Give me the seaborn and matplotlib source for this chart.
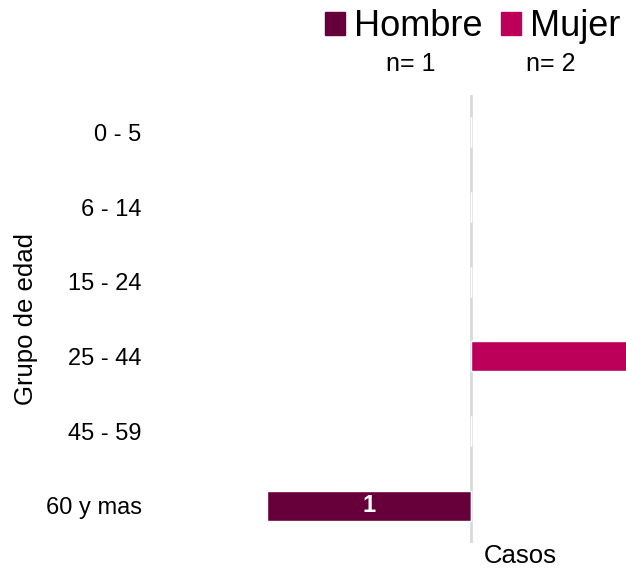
import pandas as pd
import matplotlib.pyplot as plt
import seaborn as sns
from matplotlib.patches import Patch

# Datos
grupos = ["0 - 5", "6 - 14", "15 - 24", "25 - 44", "45 - 59", "60 y mas"]
hombre = [0, 0, 0, 0, 0, 1]
mujer = [0, 0, 0, 2, 0, 0]
sexos = ["Hombre", "Mujer"]
totales = [sum(hombre), sum(mujer)]
colores = ["#67003a", "#bc005a"]

# Tabla larga: hombres a la izquierda (negativo)
df = pd.DataFrame({
    "Grupo": grupos * 2,
    "Casos": [-v for v in hombre] + mujer,
    "Sexo": ["Hombre"] * len(grupos) + ["Mujer"] * len(grupos),
})

sns.set_style("white")
plt.rcParams["font.family"] = ["Liberation Sans", "DejaVu Sans"]
plt.rcParams["text.color"] = "black"
plt.rcParams["axes.labelcolor"] = "black"
plt.rcParams["ytick.color"] = "black"

fig = plt.figure(figsize=(6.26, 5.70), dpi=100)
ax = fig.add_axes([150 / 626, 1 - 543 / 570, 476 / 626, 448 / 570])

sns.barplot(data=df, y="Grupo", x="Casos", hue="Sexo", order=grupos,
            palette=colores, dodge=False, width=0.4, orient="h",
            saturation=1, legend=False, ax=ax)

ax.set_xlim(-(471 - 150) / 204, (626 - 471) / 204)
ax.set_ylim(5.5, -0.5)
ax.axvline(0, color="#d9d9d9", lw=2, zorder=0)

# etiqueta dentro de la barra de hombres
ax.bar_label(ax.containers[0], labels=[str(v) if v else "" for v in hombre],
             label_type="center", color="white", fontsize=17, fontweight="bold")

for s in ax.spines.values():
    s.set_visible(False)
ax.set_xticks([])
ax.set_xlabel("")
ax.set_ylabel("Grupo de edad", fontsize=18.5)
ax.yaxis.set_label_coords(-0.236, 0.5)
ax.tick_params(axis="y", length=0, labelsize=17, pad=6)

fig.text(520 / 626, 1 - 556 / 570, "Casos", fontsize=18.5, ha="center", va="center")

# Leyenda con n
handles = [Patch(color=c, label=s) for s, c in zip(sexos, colores)]
fig.legend(handles=handles, loc="upper right", bbox_to_anchor=(620 / 626, 1 - 9 / 570),
           ncol=2, frameon=False, fontsize=26, handlelength=0.55,
           handleheight=0.6, handletextpad=0.25, columnspacing=0.5,
           borderpad=0, borderaxespad=0)
for x, n in zip([411, 551], totales):
    fig.text(x / 626, 1 - 64 / 570, f"n= {n}", fontsize=18, ha="center", va="center")

fig.savefig("out.png", dpi=100)
